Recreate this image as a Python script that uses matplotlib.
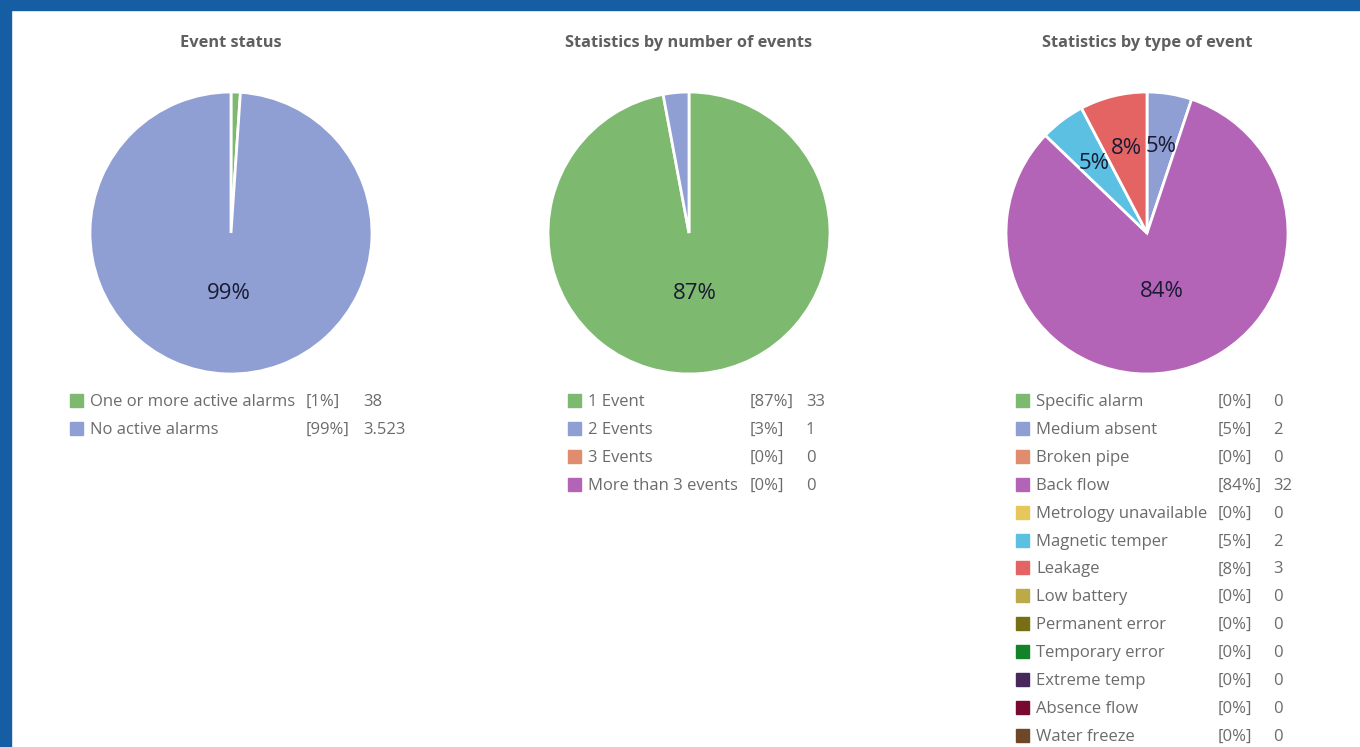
import matplotlib
matplotlib.use("Agg")
import matplotlib.pyplot as plt
from matplotlib.patches import Rectangle
import numpy as np

plt.rcParams['font.family'] = ['Open Sans', 'DejaVu Sans']

W, H = 1360, 747

# chart 1: event status
status_names = ['One or more active alarms', 'No active alarms']
status_counts = [38, 3523]
status_pcts = ['1%', '99%']
status_colors = ['#7DB96F', '#8F9FD3']

# chart 2: number of events
number_names = ['1 Event', '2 Events', '3 Events', 'More than 3 events']
number_counts = [33, 1, 0, 0]
number_pcts = ['87%', '3%', '0%', '0%']
number_colors = ['#7DB96F', '#8F9FD3', '#E08C6E', '#B464B7']

# chart 3: type of event
type_names = ['Specific alarm', 'Medium absent', 'Broken pipe', 'Back flow',
              'Metrology unavailable', 'Magnetic temper', 'Leakage', 'Low battery',
              'Permanent error', 'Temporary error', 'Extreme temp', 'Absence flow',
              'Water freeze']
type_counts = [0, 2, 0, 32, 0, 2, 3, 0, 0, 0, 0, 0, 0]
type_pcts = ['0%', '5%', '0%', '84%', '0%', '5%', '8%', '0%', '0%', '0%', '0%', '0%', '0%']
type_colors = ['#7DB96F', '#8F9FD3', '#E08C6E', '#B464B7', '#E6C85A', '#5BC0E2',
               '#E46363', '#BCAA48', '#786E14', '#148228', '#46285A', '#780A32',
               '#6E4628']

charts = [
    dict(title='Event status', names=status_names, counts=status_counts,
         pcts=status_pcts, colors=status_colors, cx=231, sq=70, tx=90, px=306, vx=363),
    dict(title='Statistics by number of events', names=number_names, counts=number_counts,
         pcts=number_pcts, colors=number_colors, cx=689, sq=568, tx=588, px=750, vx=806),
    dict(title='Statistics by type of event', names=type_names, counts=type_counts,
         pcts=type_pcts, colors=type_colors, cx=1147, sq=1016, tx=1036, px=1218, vx=1273),
]

fig = plt.figure(figsize=(W / 100, H / 100), dpi=100)
fig.patch.set_facecolor('white')

# blue frame of the screenshot
fig.patches.append(Rectangle((0, 1 - 10 / H), 1, 10 / H, transform=fig.transFigure,
                             color='#155EA3', zorder=10))
fig.patches.append(Rectangle((0, 0), 11 / W, 1, transform=fig.transFigure,
                             color='#155EA3', zorder=10))

R = 141
CY = 233
row0 = 402
rowstep = 27.9
grey = '#6B6B6B'


def fmt_count(v):
    return f"{v:,}".replace(',', '.')


for ch in charts:
    cx = ch['cx']
    ax = fig.add_axes([(cx - R) / W, 1 - (CY + R) / H, 2 * R / W, 2 * R / H])

    counts = np.array(ch['counts'], dtype=float)
    keep = counts > 0
    vals = counts[keep]
    cols = [c for c, k in zip(ch['colors'], keep) if k]
    pcts = [p for p, k in zip(ch['pcts'], keep) if k]
    wedges, _ = ax.pie(vals, colors=cols, startangle=90, counterclock=False,
                       radius=1, wedgeprops=dict(edgecolor='white', linewidth=2))
    ax.set_xlim(-1, 1)
    ax.set_ylim(-1, 1)
    ax.axis('off')
    total = vals.sum()
    for w, v, p in zip(wedges, vals, pcts):
        share = v / total
        if share < 0.04:
            continue
        mid = np.deg2rad((w.theta1 + w.theta2) / 2)
        d = 0.43 if share > 0.5 else 0.62
        ax.text(d * np.cos(mid), d * np.sin(mid), p, ha='center', va='center',
                fontsize=16, color='#1A1A33')

    fig.text(cx / W, 1 - 43 / H, ch['title'], ha='center', va='center',
             fontsize=11.8, fontweight='bold', color='#5F5F5F')

    for i, (name, cnt, pct, col) in enumerate(zip(ch['names'], ch['counts'],
                                                  ch['pcts'], ch['colors'])):
        y = row0 + i * rowstep
        fig.patches.append(Rectangle((ch['sq'] / W, 1 - (y + 5) / H), 13 / W, 13 / H,
                                     transform=fig.transFigure, color=col))
        fig.text(ch['tx'] / W, 1 - y / H, name, ha='left', va='center',
                 fontsize=12, color=grey)
        fig.text(ch['px'] / W, 1 - y / H, f'[{pct}]', ha='left', va='center',
                 fontsize=12, color=grey)
        fig.text(ch['vx'] / W, 1 - y / H, fmt_count(cnt), ha='left', va='center',
                 fontsize=12, color=grey)

fig.savefig('out.png', dpi=100)
